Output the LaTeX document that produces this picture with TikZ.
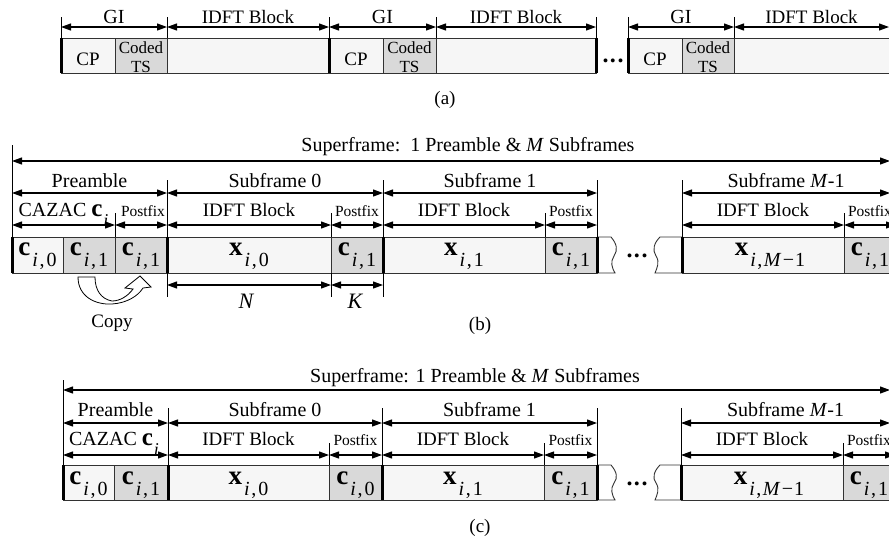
\documentclass[tikz,border=0pt]{standalone}
\usepackage{fontspec}
\setmainfont{Liberation Serif}
\usetikzlibrary{arrows.meta}
\definecolor{cellL}{RGB}{246,246,246}
\definecolor{cellG}{RGB}{217,217,217}
\definecolor{edgeC}{RGB}{50,50,50}
\newcommand\Sym[2]{{\fontsize{27}{27}\selectfont\bfseries #1}\kern2pt\raisebox{-11pt}{\fontsize{20}{20}\selectfont #2}}
\newcommand\SymS[2]{{\fontsize{25}{25}\selectfont\bfseries #1}\kern1pt\raisebox{-10pt}{\fontsize{18}{18}\selectfont #2}}
\newcommand\SubIO{\textit{i}\kern1.5pt,\kern2pt0}
\newcommand\SubII{\textit{i}\kern1.5pt,\kern2pt1}
\newcommand\SubIM{\textit{i}\kern1.5pt,\kern1.5pt\textit{M}\kern1.5pt−\kern1pt1}
\tikzset{
  dimarr/.style={line width=1.1pt,{Triangle[length=10pt,width=7pt]}-{Triangle[length=10pt,width=7pt]}},
  tickln/.style={line width=0.8pt},
  sepln/.style={line width=3pt},
  lbl/.style={font=\fontsize{20}{21}\selectfont,inner sep=0pt,anchor=base},
  lblI/.style={font=\fontsize{19}{20}\selectfont,inner sep=0pt,anchor=base},
  slbl/.style={font=\fontsize{15.5}{16}\selectfont,inner sep=0pt,anchor=base},
  ctxt/.style={inner sep=0pt,anchor=base},
  lcell/.style={fill=cellL,draw=edgeC,line width=0.9pt},
  gcell/.style={fill=cellG,draw=edgeC,line width=0.9pt},
  wcell/.style={fill=white,draw=edgeC,line width=0.9pt},
}
% x1 x2 yarrow ybase text style
\newcommand\DimL[6]{\draw[dimarr] (#1,#3) -- (#2,#3);
  \node[#6] (lab-#1-#3) at ({(#1+#2)/2},#4) {#5};}
\begin{document}
\begin{tikzpicture}[x=1pt,y=-1pt]
\useasboundingbox (0,0) rectangle (889,542);
\clip (0,0) rectangle (889,542);

% ================= (a) =================
\foreach \xa/\xb/\st in {61/115/lcell,115/167/gcell,167/329/lcell,329/383/lcell,383/436/gcell,436/596/lcell,628/682/lcell,682/734/gcell,734/900/lcell}
  \draw[\st] (\xa,38) rectangle (\xb,73);
\foreach \xx in {61,329,596,628} \draw[sepln] (\xx,38) -- (\xx,73);
\foreach \xx in {61,167,329,436,596,628,734} \draw[tickln] (\xx,17) -- (\xx,38);
\foreach \xc/\nm in {88/a1,356/a2,655/a3} {
  \node[ctxt,font=\fontsize{19}{19}\selectfont] (cp-\nm) at (\xc,65) {CP};
}
\foreach \xc/\nm in {141/a1,409.5/a2,708/a3} {
  \node[ctxt,font=\fontsize{17}{17}\selectfont] (cod-\nm) at (\xc,53) {Coded};
  \node[ctxt,font=\fontsize{17}{17}\selectfont] (ts-\nm) at (\xc,72.5) {TS};
}
\DimL{61}{167}{27}{23}{GI}{lbl}
\DimL{167}{329}{27}{23}{IDFT Block}{lblI}
\DimL{329}{436}{27}{23}{GI}{lbl}
\DimL{436}{596}{27}{23}{IDFT Block}{lblI}
\DimL{628}{734}{27}{23}{GI}{lbl}
\DimL{734}{889}{27}{23}{IDFT Block}{lblI}
\node[ctxt,font=\fontsize{24}{24}\selectfont\bfseries] (dots-a) at (613,62) {.\kern1.5pt.\kern1.5pt.};
\node[ctxt,font=\fontsize{19}{19}\selectfont] (cap-a) at (445,104) {(a)};

% ================= (b) =================
\foreach \xa/\xb/\st in {12/63/lcell,63/115/gcell,115/167/gcell,167/331/lcell,331/383/gcell,383/545/lcell,545/597/gcell,682/844/lcell,844/900/gcell}
  \draw[\st] (\xa,237) rectangle (\xb,273);
\draw[wcell] (597,237) -- (611,237) .. controls (617,244) and (618,250) .. (614,256) .. controls (610,262) and (612,268) .. (615,273) -- (597,273);
\draw[wcell] (682,237) -- (660,237) .. controls (654,243) and (652,250) .. (656,256) .. controls (660,262) and (657,268) .. (655,273) -- (682,273);
\foreach \xx in {12,167,383,597,682} \draw[sepln] (\xx,237) -- (\xx,273);
\node[ctxt,font=\fontsize{24}{24}\selectfont\bfseries] (dots-b) at (637,257) {.\kern1.5pt.\kern1.5pt.};
\node[ctxt] (b-c0) at (37.5,255) {\Sym{c}{\SubIO}};
\node[ctxt] (b-c1) at (89,255) {\Sym{c}{\SubII}};
\node[ctxt] (b-c1b) at (141,255) {\Sym{c}{\SubII}};
\node[ctxt] (b-x0) at (249,255) {\Sym{x}{\SubIO}};
\node[ctxt] (b-c1c) at (357,255) {\Sym{c}{\SubII}};
\node[ctxt] (b-x1) at (464,255) {\Sym{x}{\SubII}};
\node[ctxt] (b-c1d) at (571,255) {\Sym{c}{\SubII}};
\node[ctxt] (b-xm) at (770,255) {\Sym{x}{\SubIM}};
\node[ctxt] (b-c1e) at (870,255) {\Sym{c}{\SubII}};
% top dims
\draw[tickln] (12,145) -- (12,237);
\draw[dimarr] (12,161) -- (890,161);
\node[lbl] (sf-b) at (468,151) {Superframe:~~1 Preamble \& \textit{M} Subframes};
\foreach \xx in {167,383,597,682} \draw[tickln] (\xx,180) -- (\xx,237);
\DimL{12}{167}{193}{187}{Preamble}{lbl}
\DimL{167}{383}{193}{187}{Subframe 0}{lbl}
\DimL{383}{597}{193}{187}{Subframe 1}{lbl}
\DimL{682}{890}{193}{187}{Subframe \textit{M}-1}{lbl}
\foreach \xx in {115,331,545,844} \draw[tickln] (\xx,213) -- (\xx,237);
\draw[dimarr] (12,225) -- (115,225);
\node[lbl] (cz-b) at (63.5,216) {CAZAC \SymS{c}{\textit{i}}};
\draw[dimarr] (115,225) -- (167,225);
\node[slbl] (pf-b0) at (143,216) {Postfix};
\DimL{167}{331}{225}{216}{IDFT Block}{lblI}
\DimL{331}{383}{225}{216}{Postfix}{slbl}
\DimL{383}{545}{225}{216}{IDFT Block}{lblI}
\DimL{545}{597}{225}{216}{Postfix}{slbl}
\DimL{682}{844}{225}{216}{IDFT Block}{lblI}
\DimL{844}{896}{225}{216}{Postfix}{slbl}
% bottom dims
\foreach \xx in {167,331,383} \draw[tickln] (\xx,273) -- (\xx,297);
\draw[dimarr] (167,285) -- (331,285);
\draw[dimarr] (331,285) -- (383,285);
\node[ctxt,font=\fontsize{22}{22}\selectfont\itshape] (N-b) at (246,308) {N};
\node[ctxt,font=\fontsize{22}{22}\selectfont\itshape] (K-b) at (355,308) {K};
% copy arrow
\draw[fill=white,line width=0.8pt] (78,277) .. controls (78,297) and (96,305) .. (112,304) .. controls (127,303) and (138,296) .. (143,288) -- (151,287) -- (140,276) -- (125,288) -- (133,289) .. controls (128,296) and (120,301) .. (112,301) .. controls (101,299) and (95,290) .. (95,277) -- cycle;
\node[ctxt,font=\fontsize{19}{19}\selectfont] (copy) at (112,327) {Copy};
\node[ctxt,font=\fontsize{19}{19}\selectfont] (cap-b) at (480,330) {(b)};

% ================= (c) =================
\foreach \xa/\xb/\st in {63/114/lcell,114/168/gcell,168/329/lcell,329/382/gcell,382/544/lcell,544/597/gcell,681/843/lcell,843/900/gcell}
  \draw[\st] (\xa,465) rectangle (\xb,500);
\draw[wcell] (597,465) -- (611,465) .. controls (617,472) and (618,478) .. (614,483) .. controls (610,489) and (612,495) .. (615,500) -- (597,500);
\draw[wcell] (681,465) -- (660,465) .. controls (654,471) and (652,478) .. (656,483) .. controls (660,489) and (657,495) .. (655,500) -- (681,500);
\foreach \xx in {63,168,382,597,681} \draw[sepln] (\xx,465) -- (\xx,500);
\node[ctxt,font=\fontsize{24}{24}\selectfont\bfseries] (dots-c) at (637,485) {.\kern1.5pt.\kern1.5pt.};
\node[ctxt] (c-c0) at (88.5,484) {\Sym{c}{\SubIO}};
\node[ctxt] (c-c1) at (141,484) {\Sym{c}{\SubII}};
\node[ctxt] (c-x0) at (248.5,484) {\Sym{x}{\SubIO}};
\node[ctxt] (c-c0b) at (355.5,484) {\Sym{c}{\SubIO}};
\node[ctxt] (c-x1) at (463,484) {\Sym{x}{\SubII}};
\node[ctxt] (c-c1b) at (570.5,484) {\Sym{c}{\SubII}};
\node[ctxt] (c-xm) at (769,484) {\Sym{x}{\SubIM}};
\node[ctxt] (c-c1c) at (869,484) {\Sym{c}{\SubII}};
\draw[tickln] (63,380) -- (63,465);
\draw[dimarr] (63,390) -- (890,390);
\node[lbl] (sf-c) at (475,382) {Superframe: 1 Preamble \& \textit{M} Subframes};
\foreach \xx in {168,382,597,681} \draw[tickln] (\xx,408) -- (\xx,465);
\DimL{63}{168}{423}{416}{Preamble}{lbl}
\DimL{168}{382}{423}{416}{Subframe 0}{lbl}
\DimL{382}{597}{423}{416}{Subframe 1}{lbl}
\DimL{681}{890}{423}{416}{Subframe \textit{M}-1}{lbl}
\foreach \xx in {329,544,843} \draw[tickln] (\xx,443) -- (\xx,465);
\draw[dimarr] (63,455) -- (168,455);
\node[lbl] (cz-c) at (114,445) {CAZAC \SymS{c}{\textit{i}}};
\DimL{168}{329}{455}{445}{IDFT Block}{lblI}
\DimL{329}{382}{455}{445}{Postfix}{slbl}
\DimL{382}{544}{455}{445}{IDFT Block}{lblI}
\DimL{544}{597}{455}{445}{Postfix}{slbl}
\DimL{681}{843}{455}{445}{IDFT Block}{lblI}
\DimL{843}{895}{455}{445}{Postfix}{slbl}
\node[ctxt,font=\fontsize{19}{19}\selectfont] (cap-c) at (480,532) {(c)};
\end{tikzpicture}
\end{document}
